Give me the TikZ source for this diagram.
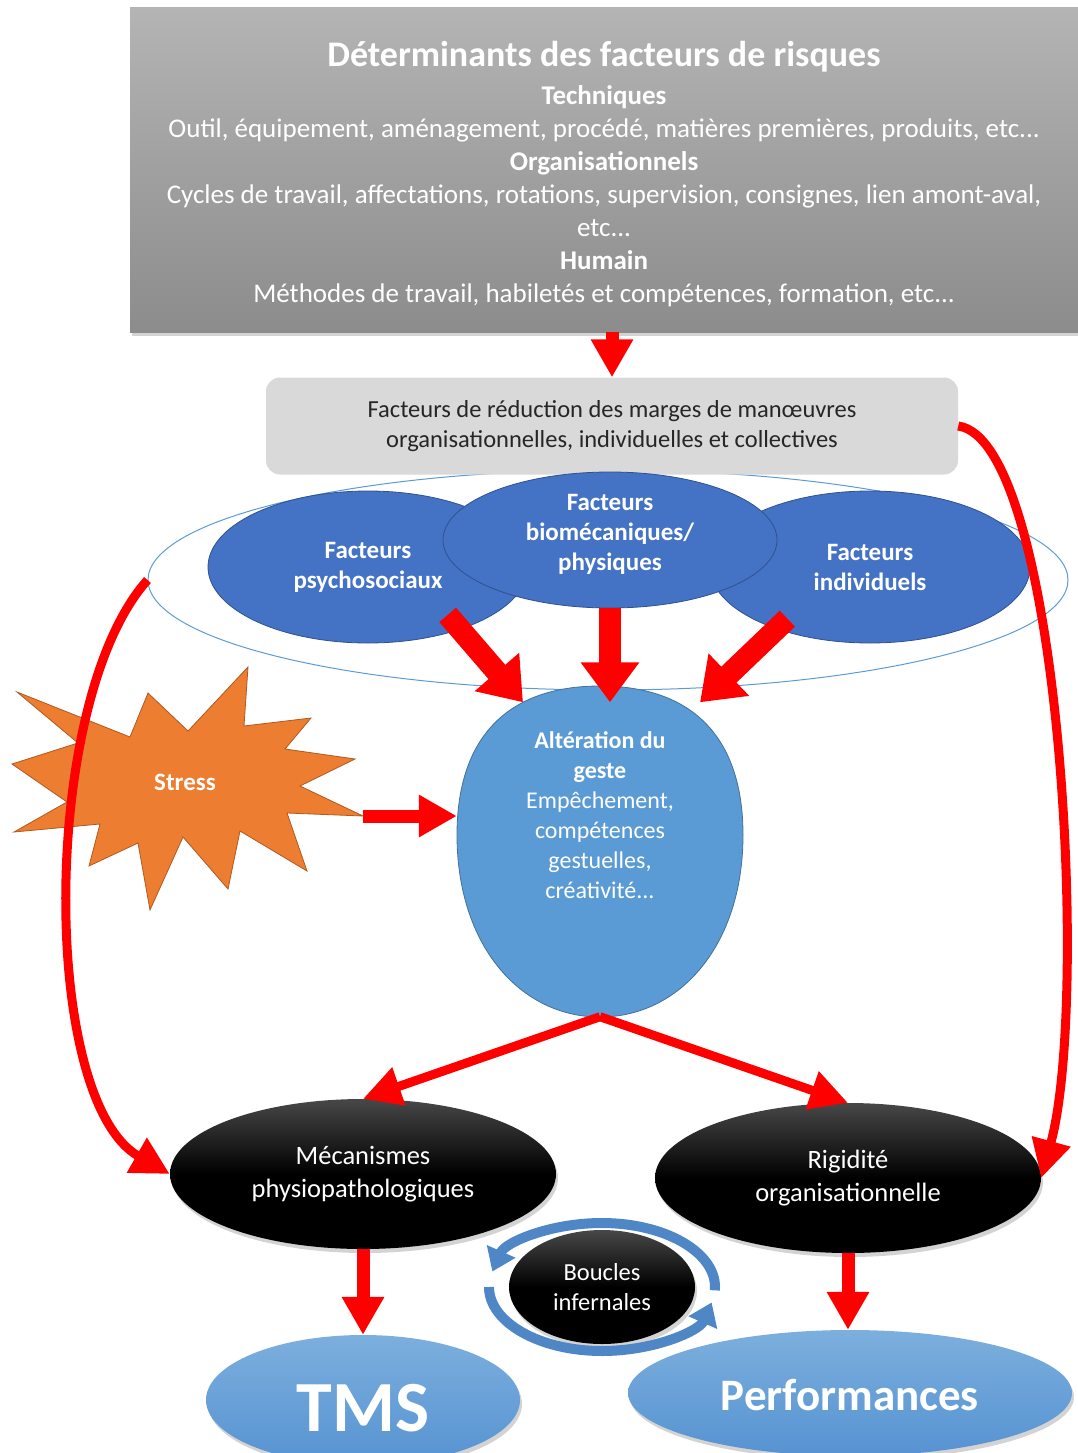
\documentclass[tikz,border=0pt]{standalone}
\usepackage{fontspec}
\setmainfont{Carlito}
\usetikzlibrary{arrows.meta, shapes.geometric, shadows, calc}

\definecolor{rouge}{HTML}{FF0000}
\definecolor{bleufonce}{HTML}{4472C4}
\definecolor{bleubord}{HTML}{2F528F}
\definecolor{bleuclair}{HTML}{5B9BD5}
\definecolor{bleuclairbord}{HTML}{41719C}
\definecolor{orange}{HTML}{ED7D31}
\definecolor{orangebord}{HTML}{AE5A21}
\definecolor{grishaut}{HTML}{B4B4B4}
\definecolor{grisbas}{HTML}{8C8C8C}
\definecolor{grisclair}{HTML}{D9D9D9}
\definecolor{bouclebleu}{HTML}{4F86C6}

\begin{document}
\begin{tikzpicture}[
        x=1pt, y=-1pt,
        ombre/.style={drop shadow={opacity=.35, shadow xshift=2pt, shadow yshift=-4pt}},
        determinant/.style={rectangle, minimum width=948pt, minimum height=324pt,
            top color=grishaut, bottom color=grisbas, ombre},
        textedet/.style={text=white, align=center, font=\fontsize{27}{33}\selectfont},
        marge/.style={rectangle, rounded corners=14pt, fill=grisclair, minimum width=692pt,
            minimum height=97pt, text=black!85, align=center, font=\fontsize{24.5}{30}\selectfont},
        enveloppe/.style={ellipse, draw=bleuclair, line width=1pt, minimum width=920pt, minimum height=220pt},
        facteur/.style={ellipse, fill=bleufonce, draw=bleubord, line width=.8pt, minimum width=320pt,
            minimum height=152pt, inner sep=0pt, text=white, align=center,
            font=\fontsize{25}{30}\selectfont\bfseries},
        geste/.style={fill=bleuclair, draw=bleuclairbord, line width=.8pt},
        texteblanc/.style={text=white, align=center, font=\fontsize{24}{30}\selectfont},
        etoile/.style={fill=orange, draw=orangebord, line width=.8pt, line join=miter},
        noir/.style={ellipse, top color=black!72, bottom color=black, middle color=black,
            minimum width=386pt, minimum height=150pt, inner sep=0pt, text=white, align=center,
            font=\fontsize{26.5}{33}\selectfont, ombre},
        resultat/.style={ellipse, top color=bleuclair!80!white, bottom color=bleuclair!80!bleufonce,
            inner sep=0pt, text=white, text depth=0pt, ombre},
        gros/.style={draw=rouge, line width=22pt, -{Triangle[length=40pt,width=56pt]}},
        moyen/.style={draw=rouge, line width=13pt, -{Triangle[length=38pt,width=40pt]}},
        fin/.style={draw=rouge, line width=9pt, -{Triangle[length=38pt,width=38pt]}},
        boucle/.style={draw=bouclebleu, line width=10pt, -{Triangle[length=22pt,width=30pt]}},
        ]

        \useasboundingbox (0,0) rectangle (1078,1453);

        % facteurs de risque
        \node[enveloppe] (zone) at (608,580) {};
        \node[determinant] (det) at (604,170) {};
        \node[textedet] (detTexte) at ([yshift=-4pt]det.center)
            {{\fontsize{36}{33}\selectfont\bfseries Déterminants des facteurs de risques}\\[5pt]
             {\bfseries Techniques}\\
             Outil, équipement, aménagement, procédé, matières premières, produits, etc...\\
             {\bfseries Organisationnels}\\
             Cycles de travail, affectations, rotations, supervision, consignes, lien amont-aval,\\
             etc...\\
             {\bfseries Humain}\\
             Méthodes de travail, habiletés et compétences, formation, etc...};
        \node[marge] (marges) at (612,426)
            {Facteurs de réduction des marges de manœuvres\\
             organisationnelles, individuelles et collectives};
        \node[facteur] (psycho) at (368,567) {Facteurs\\psychosociaux};
        \node[facteur] (indiv) at (870,567) {Facteurs\\individuels};
        \node[facteur, minimum width=334pt, minimum height=136pt] (biomeca) at (610,540) {};
        \node[facteur, draw=none, fill=none, minimum size=0pt] (biomecaTexte) at ([yshift=6pt]biomeca.center)
            {Facteurs\\biomécaniques/\\physiques};

        % geste
        \draw[geste] (600,686) .. controls (695,686) and (743,740) .. (743,835)
            .. controls (743,945) and (680,1017) .. (600,1017)
            .. controls (520,1017) and (457,945) .. (457,835)
            .. controls (457,740) and (505,686) .. cycle;
        \node[ellipse, minimum width=286pt, minimum height=331pt] (alteration) at (600,851) {};
        \node[texteblanc] (alterTexte) at ([yshift=36pt]alteration.center)
            {{\bfseries Altération du}\\{\bfseries geste}\\Empêchement,\\compétences\\gestuelles,\\créativité...};

        % stress
        \draw[etoile] (17,692) -- (130,737) -- (148,693) -- (188,731) -- (248,667) -- (244,726)
            -- (311,718) -- (285,749) -- (355,759) -- (300,786) -- (363,816) -- (287,813)
            -- (307,871) -- (240,831) -- (228,889) -- (183,837) -- (150,910) -- (138,843)
            -- (89,866) -- (100,824) -- (14,832) -- (67,802) -- (12,764) -- (78,743) -- cycle;
        \node[text=white, font=\fontsize{25}{26}\selectfont\bfseries] (stress) at (185,782) {Stress};
        \coordinate (pointe) at (363,816);

        % consequences
        \node[noir] (meca) at (363,1174) {Mécanismes\\physiopathologiques};
        \node[noir] (rigid) at (848,1178) {Rigidité\\organisationnelle};
        \node[noir, minimum width=186pt, minimum height=114pt, font=\fontsize{24.5}{30}\selectfont]
            (boucles) at (602,1287) {Boucles\\infernales};
        \node[resultat, minimum width=314pt, minimum height=130pt, text height=62pt,
            font=\fontsize{72}{72}\selectfont\bfseries] (tms) at (363,1400) {TMS};
        \node[resultat, minimum width=444pt, minimum height=126pt, text height=34pt,
            font=\fontsize{45}{45}\selectfont\bfseries] (perf) at (850,1393) {Performances};

        % boucles infernales
        \begin{scope}[shift={(boucles.center)}, y=1pt]
            \draw[boucle] (-3:113 and 64) arc[start angle=-3, end angle=166, x radius=113, y radius=64];
            \draw[boucle] (180:113 and 64) arc[start angle=180, end angle=346, x radius=113, y radius=64];
        \end{scope}

        % fleches
        \draw[moyen] (marges.north |- det.south) -- (marges.north);
        \draw[gros] ($(psycho.center)!0.8!(psycho.-31)$) -- ([xshift=-77pt,yshift=-17pt]alteration.north);
        \draw[gros] (biomeca.south) -- ([yshift=-17pt]biomeca.south |- alteration.north);
        \draw[gros] ($(indiv.center)!0.85!(indiv.-148)$) -- ([xshift=100pt,yshift=-17pt]alteration.north);
        \draw[moyen] (pointe) -- (pointe -| alteration.west);
        \draw[fin] (alteration.south) -- (meca.north);
        \draw[fin] (alteration.south) -- (rigid.north);
        \draw[moyen] (meca.south) -- (tms.north);
        \draw[moyen] (rigid.south) -- (rigid.south |- perf.north);
        \draw[fin] (zone.west) .. controls (40,700) and (40,1100) .. (meca.west);
        \draw[fin] (marges.east) .. controls (1060,440) and (1090,1000) .. (rigid.east);
      \end{tikzpicture}
\end{document}
